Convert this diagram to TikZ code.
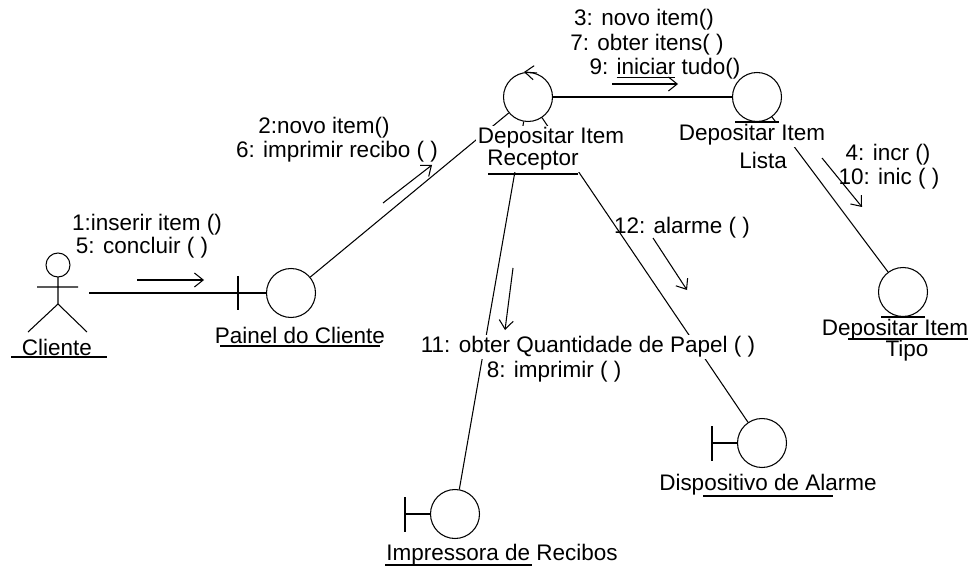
\documentclass[tikz,border=0pt]{standalone}
\usepackage{fontspec}
\setmainfont{Liberation Sans}
\usetikzlibrary{arrows.meta}

\begin{document}
\begin{tikzpicture}[x=0.02cm, y=-0.02cm, line width=0.6pt,
  every node/.style={font=\fontsize{12.8}{14}\selectfont, inner sep=1pt},
  obj/.style={circle, draw, minimum size=0.98cm, inner sep=0pt},
  objname/.style={fill=white},
  msg/.style={-{Straight Barb[length=5pt,width=8pt]}}]
\useasboundingbox (0,0) rectangle (969,567);
% objects
\node[obj] (pain) at (291,293) {};
\node[obj] (rec) at (528,97) {};
\node[obj] (lis) at (757,97) {};
\node[obj] (tip) at (903,292) {};
\node[obj] (ala) at (762,443) {};
\node[obj] (imp) at (455,514) {};
% actor
\draw (58,265) circle[radius=12];
\draw (37,287) -- (78,287) (58,277) -- (58,304) -- (28,332) (58,304) -- (87,332);
\coordinate (cli) at (89,293);
% boundary, entity, control
\draw (pain.west) -- ++(-28,0) coordinate (painT) ++(0,-17) -- ++(0,34);
\draw (imp.west) -- ++(-25,0) ++(0,-17) -- ++(0,35);
\draw (ala.west) -- ++(-25,0) ++(0,-17) -- ++(0,35);
\draw (lis.south) ++(-22,0) -- ++(44,0);
\draw (tip.south) ++(-22,0) -- ++(44,0);
\draw[msg] (rec.north) ++(9,1) -- ++(-13,-1);
% links
\draw (cli) -- (painT);
\draw (pain) -- (rec);
\draw (rec) -- (lis);
\draw (lis) -- (tip);
\draw (rec) -- (ala);
\draw (rec) -- (imp);
% names
\node (cliN) at (57,347) {Cliente};
\node (painN) at (300,335) {Painel do Cliente};
\node[objname] (recA) at (551,138) {Depositar Item};
\node[objname] (recB) at (533,160) {Receptor};
\node[objname] (lisA) at (752,135) {Depositar Item};
\node (lisB) at (763,160) {Lista};
\node (tipA) at (895,330) {Depositar Item};
\node (tipB) at (907,351) {Tipo};
\node (alaN) at (768,485) {Dispositivo de Alarme};
\node (impN) at (502,555) {Impressora de Recibos};
\draw (11,357) -- (107,357);
\draw (220,346) -- (380,346);
\draw (488,174) -- (578,174);
\draw (848,339) -- (968,339);
\draw (703,496) -- (833,496);
\draw (385,565) -- (532,565);
% messages
\node (m1a) at (147,225) {1:inserir item ()};
\node (m1b) at (142,248) {5: concluir ( )};
\draw[msg] (137,280) -- (204,280);
\node (m2a) at (324,128) {2:novo item()};
\node (m2b) at (337,152) {6: imprimir recibo ( )};
\draw[msg] (383,203) -- (432,165);
\node (m3a) at (644,20) {3: novo item()};
\node (m3b) at (647,45) {7: obter itens( )};
\node (m3c) at (665,69) {9: \underline{iniciar} tudo()};
\draw[msg] (612,84) -- (678,84);
\node (m4a) at (888,155) {4: incr ()};
\node (m4b) at (889,179) {10: inic ( )};
\draw[msg] (822,158) -- (862,207);
\node (m12) at (682,228) {12: alarme ( )};
\draw[msg] (653,238) -- (687,290);
\node[objname] (m11) at (588,347) {11: obter Quantidade de Papel ( )};
\node (m8) at (554,372) {8: imprimir ( )};
\draw[msg] (513,268) -- (505,330);
\end{tikzpicture}
\end{document}
